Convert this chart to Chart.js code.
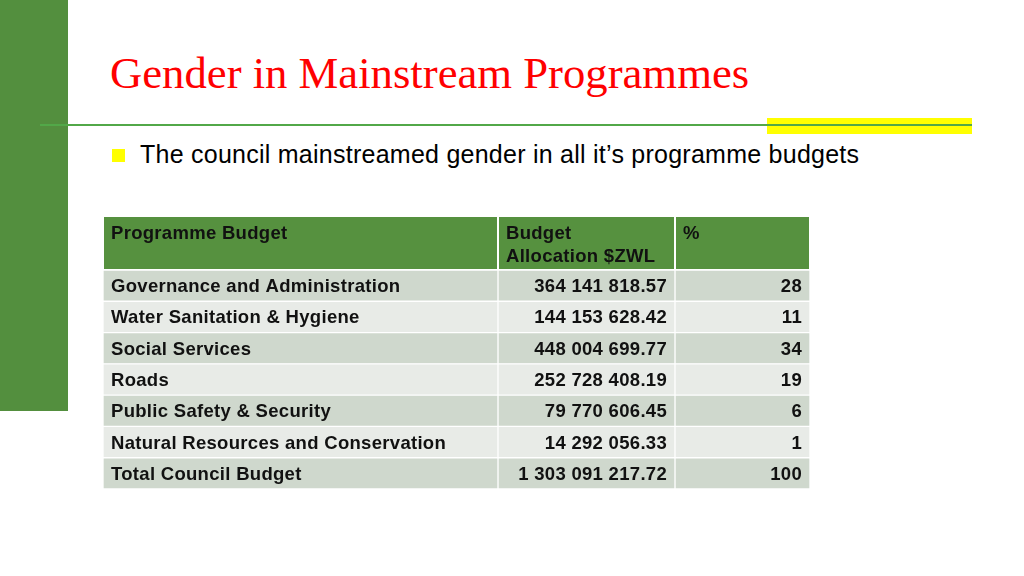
<!DOCTYPE html>
<html lang="en">
<head>
  <meta charset="UTF-8">
  <title>Gender in Mainstream Programmes</title>
  <script src="https://cdn.jsdelivr.net/npm/chart.js"></script>
  <style>
    body {
      margin: 0;
      width: 1024px;
      height: 576px;
      background: #fff;
      position: relative;
      overflow: hidden;
      font-family: 'Liberation Sans', Arial, sans-serif;
    }
    .side-bar {
      position: absolute; left: 0; top: 0;
      width: 68px; height: 411px;
      background: #538f3e;
    }
    .title {
      position: absolute; left: 110px; top: 51px;
      font-family: 'Liberation Serif', 'Times New Roman', serif;
      font-size: 44.7px; line-height: 44.7px;
      color: #ff0000; white-space: nowrap;
    }
    .yellow-band {
      position: absolute; left: 767px; top: 118px;
      width: 205px; height: 16px;
      background: #ffff00;
    }
    .rule {
      position: absolute; left: 40px; top: 124px;
      width: 932px; height: 2px;
      background: #52a848;
    }
    .bullet {
      position: absolute; left: 112px; top: 149px;
      width: 13px; height: 13px;
      background: #ffff00;
    }
    .lead {
      position: absolute; left: 140px; top: 142px;
      font-size: 25px; line-height: 25px;
      letter-spacing: 0.25px;
      color: #000; white-space: nowrap;
    }
    .table-box {
      position: absolute; left: 103px; top: 217px;
      width: 707px; height: 272px;
    }
  </style>
</head>
<body>
  <div class="side-bar"></div>
  <div class="title">Gender in Mainstream Programmes</div>
  <div class="yellow-band"></div>
  <div class="rule"></div>
  <div class="bullet"></div>
  <div class="lead">The council mainstreamed gender in all it’s programme budgets</div>

  <div class="table-box">
    <canvas id="budget_table"></canvas>
  </div>

  <script>
    // Donnees du tableau
    const programmes = [
      'Governance and Administration',
      'Water Sanitation & Hygiene',
      'Social Services',
      'Roads',
      'Public Safety & Security',
      'Natural Resources and Conservation',
      'Total Council Budget'
    ];
    const budgetsZWL = [364141818.57, 144153628.42, 448004699.77, 252728408.19, 79770606.45, 14292056.33, 1303091217.72];
    const sharePct = [28, 11, 34, 19, 6, 1, 100];
    const headers = [['Programme Budget'], ['Budget', 'Allocation $ZWL'], ['%']];

    // mise en page des colonnes (largeurs relatives)
    const colWidths = [395, 177, 135];
    const totalWidth = colWidths.reduce((a, b) => a + b, 0);
    const headerGreen = '#56913f';
    const rowDark = '#cfd8cd';
    const rowLight = '#e8ebe7';
    const cellFont = 'bold 18.5px "Liberation Sans", Arial, sans-serif';

    function formatZWL(v) {
      const parts = v.toFixed(2).split('.');
      return parts[0].replace(/\B(?=(\d{3})+(?!\d))/g, ' ') + '.' + parts[1];
    }

    const cellText = [
      programmes,
      budgetsZWL.map(formatZWL),
      sharePct.map(String)
    ];
    const align = ['left', 'right', 'right'];

    const tablePlugin = {
      id: 'tableText',
      beforeDatasetsDraw(chart) {
        const ctx = chart.ctx;
        const x = chart.scales.x;
        const top = chart.chartArea.top;
        let cum = 0;
        ctx.save();
        ctx.fillStyle = headerGreen;
        colWidths.forEach(w => {
          const x0 = x.getPixelForValue(cum);
          const x1 = x.getPixelForValue(cum + w);
          ctx.fillRect(x0 + 1, 0, x1 - x0 - 2, top - 1);
          cum += w;
        });
        ctx.restore();
      },
      afterDatasetsDraw(chart) {
        const ctx = chart.ctx;
        const x = chart.scales.x;
        const y = chart.scales.y;
        ctx.save();
        ctx.font = cellFont;
        ctx.letterSpacing = '0.3px';
        ctx.fillStyle = '#111';
        ctx.textBaseline = 'alphabetic';
        let cum = 0;
        colWidths.forEach((w, c) => {
          const x0 = x.getPixelForValue(cum);
          const x1 = x.getPixelForValue(cum + w);
          // en-tete
          ctx.textAlign = 'left';
          headers[c].forEach((line, k) => {
            ctx.fillText(line, x0 + 8, 22 + k * 23);
          });
          // cellules
          ctx.textAlign = align[c];
          cellText[c].forEach((txt, r) => {
            const cy = y.getPixelForValue(r);
            const tx = align[c] === 'left' ? x0 + 8 : x1 - 8;
            ctx.fillText(txt, tx, cy + 6.5);
          });
          cum += w;
        });
        ctx.restore();
      }
    };

    new Chart(document.getElementById('budget_table').getContext('2d'), {
      type: 'bar',
      data: {
        labels: programmes,
        datasets: colWidths.map((w, c) => ({
          label: 'col' + c,
          data: programmes.map(() => w),
          backgroundColor: programmes.map((p, r) => (r % 2 === 0 ? rowDark : rowLight)),
          borderColor: '#ffffff',
          borderWidth: 1,
          borderSkipped: false,
          barPercentage: 1,
          categoryPercentage: 1
        }))
      },
      options: {
        indexAxis: 'y',
        responsive: true,
        maintainAspectRatio: false,
        animation: false,
        layout: { padding: { top: 53, left: 0, right: 0, bottom: 0 } },
        scales: {
          x: { type: 'linear', stacked: true, min: 0, max: totalWidth, display: false },
          y: { stacked: true, display: false }
        },
        plugins: {
          legend: { display: false },
          tooltip: { enabled: false }
        }
      },
      plugins: [tablePlugin]
    });
  </script>
</body>
</html>
